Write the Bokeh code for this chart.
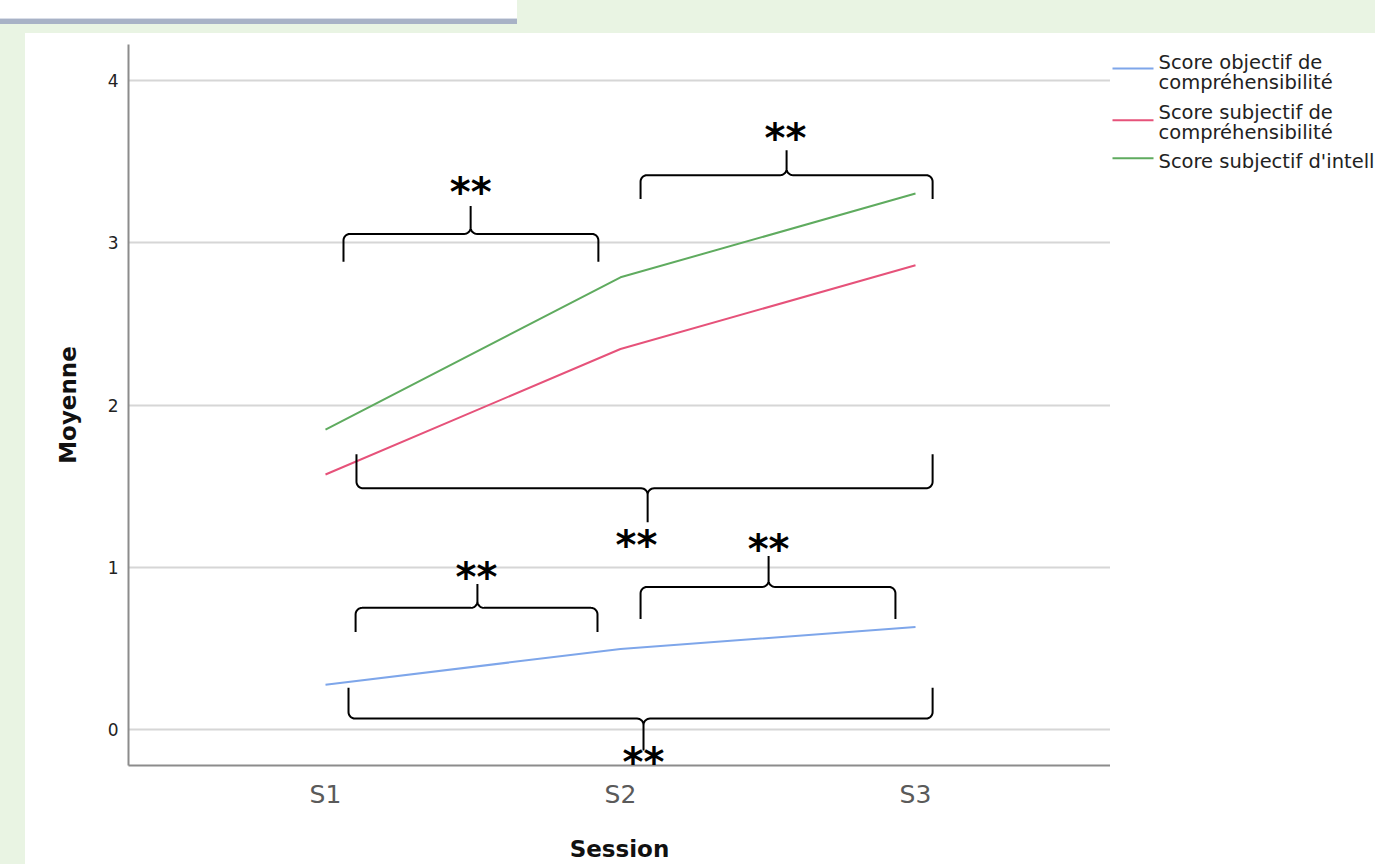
import math
from bokeh.plotting import figure
from bokeh.models import Range1d, FixedTicker, Label, Div
from bokeh.layouts import column, row
from bokeh.core.properties import value
from bokeh.embed import file_html
from bokeh.resources import INLINE

# ---------------- data ----------------
sessions = ["S1", "S2", "S3"]
score_obj_compr = [0.276, 0.497, 0.632]      # Score objectif de compréhensibilité
score_subj_compr = [1.572, 2.345, 2.861]     # Score subjectif de compréhensibilité
score_subj_intel = [1.848, 2.787, 3.303]     # Score subjectif d'intelligibilité
series_names = ["Score objectif de compréhensibilité",
                "Score subjectif de compréhensibilité",
                "Score subjectif d'intelligibilité"]
legend_lines = [["Score objectif de", "compréhensibilité"],
                ["Score subjectif de", "compréhensibilité"],
                ["Score subjectif d'intelligibilité"]]
y_ticks = [0, 1, 2, 3, 4]

# significance braces: (x start, x end, y of bar, y of ends, x of tip, y of tip)
braces = [
    (1.061, 1.925, 3.054, 2.882, 1.492, 3.226),
    (2.068, 3.058, 3.416, 3.269, 2.563, 3.570),
    (1.105, 3.058, 1.487, 1.696, 2.092, 1.278),
    (2.068, 2.932, 0.879, 0.682, 2.502, 1.069),
    (1.102, 1.922, 0.750, 0.602, 1.515, 0.897),
    (1.078, 3.058, 0.068, 0.258, 2.078, -0.129),
]
stars_x = [1.492, 2.559, 2.054, 2.502, 1.512, 2.078]
stars_y = [3.343, 3.674, 1.167, 1.143, 0.971, -0.166]
stars_text = ["**"] * 6

# ---------------- layout geometry ----------------
PANEL_TOP = 33
FIG_W, FIG_H = 1085, 864 - PANEL_TOP
B_LEFT, B_TOP = 103, 11
FRAME_W = FIG_W - B_LEFT
FRAME_H = 723
B_BOTTOM = FIG_H - B_TOP - FRAME_H
PX_X, PX_Y = 295.0, 162.75
X_START = 1 - 197 / PX_X
X_END = X_START + FRAME_W / PX_X
Y_START = -36 / PX_Y
Y_END = Y_START + FRAME_H / PX_Y
LEG_LEFT = 25 + FIG_W
LEG_W = 1375 - LEG_LEFT
FRAME_TOP_PX = PANEL_TOP + B_TOP
FRAME_BOTTOM_PX = FRAME_TOP_PX + FRAME_H

FONT = "DejaVu Sans"
colors = ["#7ea6ea", "#e6527a", "#5fab5f"]
GREEN_BG = "#e9f4e3"

p = figure(width=FIG_W, height=FIG_H, output_backend="svg", toolbar_location=None,
           x_range=Range1d(X_START, X_END), y_range=Range1d(Y_START, Y_END),
           min_border_left=B_LEFT, min_border_top=B_TOP, min_border_bottom=B_BOTTOM,
           min_border_right=0, margin=(9, 0, 0, 25))
p.outline_line_color = None
p.background_fill_color = "white"
p.border_fill_color = "white"
p.xgrid.visible = False
p.ygrid.ticker = FixedTicker(ticks=y_ticks)
p.ygrid.grid_line_color = "#d6d6d6"
p.ygrid.grid_line_width = 2

xpos = list(range(1, len(sessions) + 1))
xa = p.xaxis[0]
xa.ticker = FixedTicker(ticks=xpos)
xa.major_label_overrides = {i: s for i, s in zip(xpos, sessions)}
xa.axis_label = "Session"
ya = p.yaxis[0]
ya.ticker = FixedTicker(ticks=y_ticks)
ya.axis_label = "Moyenne"
for ax in (xa, ya):
    ax.axis_line_color = "#8c8c8c"
    ax.axis_line_width = 2
    ax.major_tick_line_color = None
    ax.minor_tick_line_color = None
    ax.major_tick_out = 0
    ax.major_tick_in = 0
    ax.minor_tick_out = 0
    ax.minor_tick_in = 0
    ax.major_label_text_font = FONT
    ax.axis_label_text_font = FONT
    ax.axis_label_text_font_style = "bold"
    ax.axis_label_text_font_size = "23px"
    ax.axis_label_text_color = "#111111"
xa.major_label_text_font_size = "25px"
xa.major_label_text_color = "#5a5a5a"
xa.major_label_standoff = 14
xa.axis_label_standoff = 24
ya.major_label_text_font_size = "17px"
ya.major_label_text_color = "#222222"
ya.major_label_standoff = 10
ya.axis_label_standoff = 24

# data lines
for vals, c, name in zip([score_obj_compr, score_subj_compr, score_subj_intel], colors, series_names):
    p.line(xpos, vals, line_color=c, line_width=2, name=name)


# braces
def brace_path(x0, x1, yl, ye, xt, yt, rx=0.022, ry=0.04, n=8):
    se = 1 if ye > yl else -1
    d = 1 if yt > yl else -1
    xs, ys = [x0], [ye]
    cx, cy = x0 + rx, yl + se * ry
    for k in range(n + 1):
        t = k / n * math.pi / 2
        xs.append(cx - rx * math.cos(t)); ys.append(cy - se * ry * math.sin(t))
    cx, cy = xt - rx, yl + d * ry
    for k in range(n + 1):
        t = k / n * math.pi / 2
        xs.append(cx + rx * math.sin(t)); ys.append(cy - d * ry * math.cos(t))
    xs.append(xt); ys.append(yt)
    xs.append(xt); ys.append(yl + d * ry)
    cx, cy = xt + rx, yl + d * ry
    for k in range(n + 1):
        t = k / n * math.pi / 2
        xs.append(cx - rx * math.cos(t)); ys.append(cy - d * ry * math.sin(t))
    cx, cy = x1 - rx, yl + se * ry
    for k in range(n + 1):
        t = k / n * math.pi / 2
        xs.append(cx + rx * math.sin(t)); ys.append(cy - se * ry * math.cos(t))
    xs.append(x1); ys.append(ye)
    return xs, ys


bx, by = [], []
for b in braces:
    xs, ys = brace_path(*b)
    bx.append(xs); by.append(ys)
p.multi_line(bx, by, line_color="black", line_width=2)

# significance stars
STAR_SHIFT = 5 / PX_Y
for sx, sy, st in zip(stars_x, stars_y, stars_text):
    p.add_layout(Label(x=sx, y=sy - STAR_SHIFT, text=st, text_font=FONT,
                       text_font_size="40px", text_font_style="bold",
                       text_align="center", text_baseline="middle",
                       text_color="black"))

# legend panel at the right (coordinates in page pixels, y downward)
lg = figure(width=LEG_W, height=FIG_H, output_backend="svg", toolbar_location=None,
            x_range=Range1d(LEG_LEFT, 1375), y_range=Range1d(FRAME_BOTTOM_PX, FRAME_TOP_PX),
            x_axis_type=None, y_axis_type=None,
            min_border_left=0, min_border_right=0,
            min_border_top=B_TOP, min_border_bottom=B_BOTTOM, margin=(9, 0, 0, 0))
lg.outline_line_color = None
lg.grid.visible = False
lg.background_fill_color = "white"
lg.border_fill_color = "white"
sample_y = [68, 120, 158]
text_y = [[62, 82], [112, 132], [161]]
for lines, c, sy, ty in zip(legend_lines, colors, sample_y, text_y):
    lg.line([1112, 1153], [sy, sy], line_color=c, line_width=2)
    lg.text(x=[1158] * len(lines), y=ty, text=lines,
            text_font=value(FONT), text_font_size="19.5px", text_baseline="middle",
            text_align="left", text_color="#222222")

top_strip = Div(text="", width=517, height=24, margin=0,
                styles={"background": "linear-gradient(to bottom, #ffffff 0px, #ffffff 18px, "
                                      "#d9dee8 18px, #d9dee8 19px, #a8b2c6 19px, #a8b2c6 24px)"})
charts = row(p, lg, spacing=0, margin=0,
             styles={"background": f"linear-gradient(to right, {GREEN_BG} 0px, {GREEN_BG} 25px, "
                                   f"rgba(255,255,255,0) 25px), "
                                   f"linear-gradient(to bottom, {GREEN_BG} 0px, {GREEN_BG} 9px, "
                                   f"#ffffff 9px, #ffffff 100%)"})
page = column(top_strip, charts, spacing=0, margin=0,
              styles={"background-color": GREEN_BG})

open("out.html", "w").write(file_html(page, INLINE))
